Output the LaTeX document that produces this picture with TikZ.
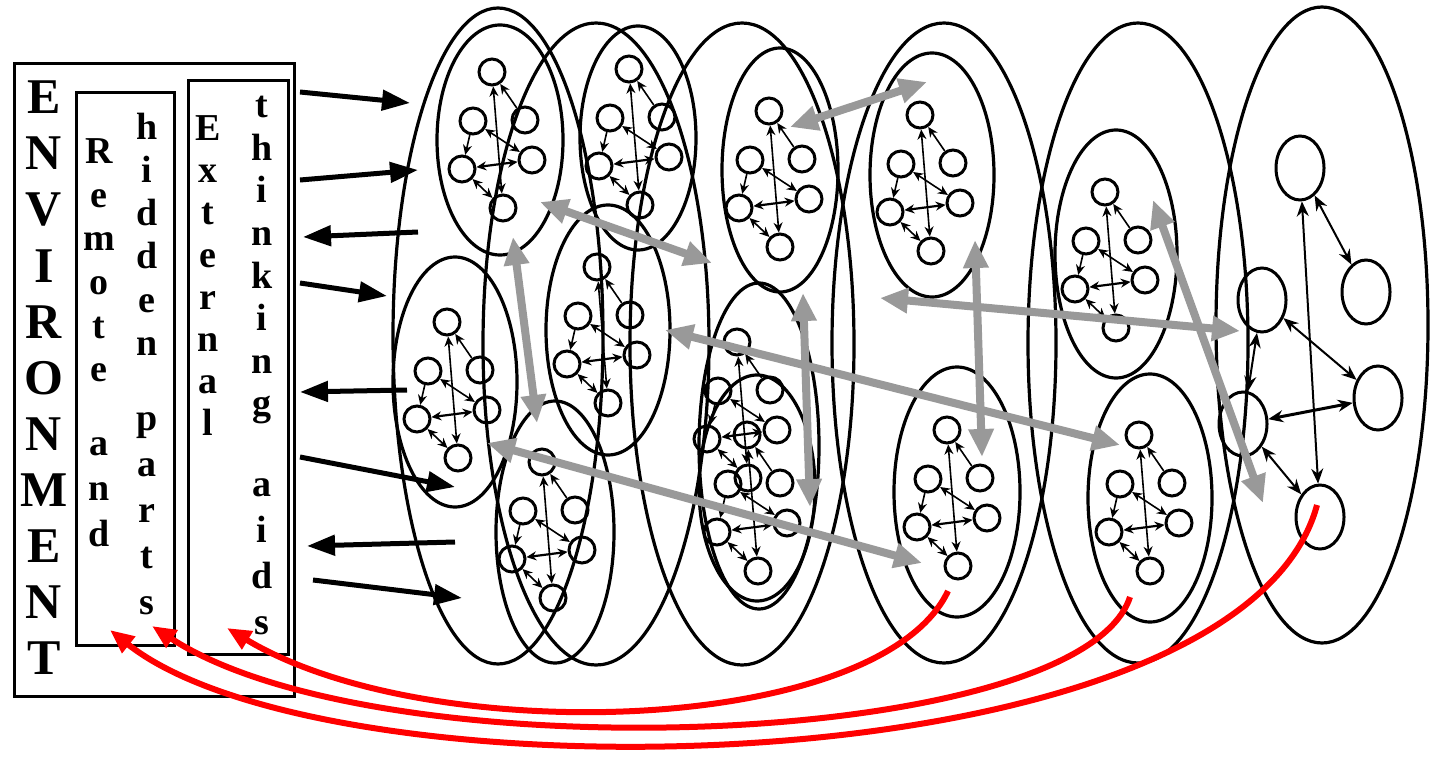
\documentclass[tikz,border=0pt]{standalone}
\usepackage{fontspec}
\setmainfont{Liberation Serif}
\usetikzlibrary{arrows.meta,shapes.geometric}

\definecolor{linkgray}{RGB}{153,153,153}

% one small network of six cells
\newcommand{\minnet}[3]{%
  \begin{scope}[shift={(#2,#3)}]
    \node[cell] (#1t) at (-8,-68) {};
    \node[cell] (#1ur) at (25,-20) {};
    \node[cell] (#1ul) at (-27,-19) {};
    \node[cell] (#1r) at (32,20) {};
    \node[cell] (#1l) at (-38,29) {};
    \node[cell] (#1b) at (3,68) {};
    \draw[link,<->] (#1b) -- (#1t);
    \draw[link,->] (#1ur) -- (#1t);
    \draw[link,->] (#1ul) -- (#1l);
    \draw[link,<->] (#1ul) -- (#1r);
    \draw[link,<->,line width=2.2pt] (#1l) -- (#1r);
    \draw[link,<->] (#1l) -- (#1b);
  \end{scope}}

% letters set one under the other
\newcommand{\stackword}[6]{%
  \foreach \c [count=\i] in {#6}
    \node[#1] (#2\i) at (#3,{#4+#5*(\i-1)}) {\c};}

\begin{document}
\begin{tikzpicture}[
    x=1pt, y=-1pt,
    shell/.style={ellipse, draw, line width=3.2pt, inner sep=0pt},
    cell/.style={circle, draw, line width=3pt, minimum size=26pt, inner sep=0pt},
    bigcell/.style={ellipse, draw, line width=3pt, minimum width=48pt, minimum height=64pt, inner sep=0pt},
    link/.style={line width=1.6pt, >={Stealth[length=10pt,width=9pt]}},
    biglink/.style={line width=2pt, >={Stealth[length=15pt,width=12pt]}},
    flow/.style={draw=linkgray, line width=8pt, <->, >={Triangle[length=28pt,width=24pt]}},
    sense/.style={line width=5pt, -{Triangle[length=28pt,width=20pt]}},
    recall/.style={draw=red, line width=6pt, -{Triangle[length=24pt,width=20pt]}},
    frame/.style={draw, line width=3.2pt, inner sep=0pt},
    envchar/.style={font=\fontsize{50}{50}\selectfont\bfseries, anchor=base, inner sep=0pt},
    colchar/.style={font=\fontsize{38}{38}\selectfont\bfseries, anchor=base, inner sep=0pt}
  ]
  \useasboundingbox (0,0) rectangle (1431,759);

  % Large shells
  \node[shell, minimum width=210, minimum height=656] (E1) at (498,336) {};
  \node[shell, minimum width=226, minimum height=642] (E2) at (596,344) {};
  \node[shell, minimum width=224, minimum height=642] (E3) at (742,344) {};
  \node[shell, minimum width=224, minimum height=640] (E4) at (944,343) {};
  \node[shell, minimum width=220, minimum height=640] (E5) at (1138,343) {};
  \node[shell, minimum width=212, minimum height=636] (E6) at (1322,325) {};

  % Inner shells
  \node[shell, minimum width=126, minimum height=230] (M1) at (500,140) {};
  \node[shell, minimum width=116, minimum height=224] (M2) at (638,138) {};
  \node[shell, minimum width=116, minimum height=244] (M3) at (780,170) {};
  \node[shell, minimum width=124, minimum height=244] (M4) at (932,175) {};
  \node[shell, minimum width=122, minimum height=248] (M5) at (1116,254) {};
  \node[shell, minimum width=124, minimum height=250] (Mf) at (455,382) {};
  \node[shell, minimum width=124, minimum height=250] (Mg) at (608,330) {};
  \node[shell, minimum width=118, minimum height=262] (Mh) at (555,532) {};
  \node[shell, minimum width=120, minimum height=326] (Mi) at (759,446) {};
  \node[shell, minimum width=116, minimum height=226] (Mii) at (757,488) {};
  \node[shell, minimum width=126, minimum height=250] (Mj) at (957,492) {};
  \node[shell, minimum width=124, minimum height=248] (Mk) at (1150,498) {};

  % Small networks
  \minnet{a}{500}{140}
  \minnet{b}{637}{137}
  \minnet{c}{777}{179}
  \minnet{d}{928}{183}
  \minnet{e}{1113}{260}
  \minnet{f}{455}{390}
  \minnet{g}{605}{335}
  \minnet{h}{550}{530}
  \minnet{p}{745}{410}
  \minnet{q}{755}{503}
  \minnet{j}{955}{498}
  \minnet{k}{1147}{503}

  % Large network
  \node[bigcell] (n1) at (1300,168) {};
  \node[bigcell] (n2) at (1366,292) {};
  \node[bigcell] (n3) at (1262,300) {};
  \node[bigcell] (n4) at (1378,398) {};
  \node[bigcell] (n5) at (1243,424) {};
  \node[bigcell] (n6) at (1320,517) {};
  \draw[biglink,<->] (n6) -- (n1);
  \draw[biglink,<->] (n2) -- (n1);
  \draw[biglink,<->] (n3) -- (n5);
  \draw[biglink,<->] (n3) -- (n4);
  \draw[biglink,<->,line width=3pt] (n5) -- (n4);
  \draw[biglink,<->] (n5) -- (n6);

  % Environment boxes
  \node[frame, fill=white, anchor=north west, minimum width=280, minimum height=633] (envbox) at (13,62) {};
  \node[frame, anchor=north west, minimum width=98, minimum height=553] (remotebox) at (75,91) {};
  \node[frame, anchor=north west, minimum width=100, minimum height=574] (aidbox) at (187,79) {};

  \stackword{envchar}{env}{44}{114}{56}{E,N,V,I,R,O,N,M,E,N,T}
  \stackword{colchar}{rem}{99}{164}{43.5}{R,e,m,o,t,e}
  \stackword{colchar}{and}{99}{455}{45.5}{a,n,d}
  \stackword{colchar}{hid}{147}{140}{43}{h,i,d,d,e,n}
  \stackword{colchar}{par}{147}{430}{46}{p,a,r,t,s}
  \stackword{colchar}{ext}{208}{141}{42}{E,x,t,e,r,n,a,l}
  \stackword{colchar}{thi}{262}{118}{42.5}{t,h,i,n,k,i,n,g}
  \stackword{colchar}{aid}{262}{496}{46}{a,i,d,s}

  % Black arrows to and from the environment
  \coordinate (s1a) at (300,92);  \coordinate (s1b) at (410,103);
  \coordinate (s2a) at (300,180); \coordinate (s2b) at (418,170);
  \coordinate (s3a) at (418,232); \coordinate (s3b) at (303,237);
  \coordinate (s4a) at (300,283); \coordinate (s4b) at (387,296);
  \coordinate (s5a) at (407,390); \coordinate (s5b) at (300,392);
  \coordinate (s6a) at (300,457); \coordinate (s6b) at (455,487);
  \coordinate (s7a) at (455,542); \coordinate (s7b) at (307,546);
  \coordinate (s8a) at (313,580); \coordinate (s8b) at (462,598);
  \foreach \k in {1,...,8}
    \draw[sense] (s\k a) -- (s\k b);

  % Gray links between shells
  \coordinate (g1a) at (540,202);  \coordinate (g1b) at (712,263);
  \coordinate (g2a) at (513,237);  \coordinate (g2b) at (537,423);
  \coordinate (g3a) at (790,127);  \coordinate (g3b) at (927,82);
  \coordinate (g4a) at (803,293);  \coordinate (g4b) at (810,507);
  \coordinate (g5a) at (665,330);  \coordinate (g5b) at (1120,445);
  \coordinate (g6a) at (487,443);  \coordinate (g6b) at (922,563);
  \coordinate (g7a) at (880,298);  \coordinate (g7b) at (1240,331);
  \coordinate (g8a) at (975,240);  \coordinate (g8b) at (982,457);
  \coordinate (g9a) at (1153,200); \coordinate (g9b) at (1263,503);
  \foreach \k in {1,...,9}
    \draw[flow] (g\k a) -- (g\k b);

  % Red arrows back to the environment
  \coordinate (r1) at (948,591);  \coordinate (tipaid) at (227,628);
  \coordinate (r2) at (1130,597); \coordinate (tiphid) at (152,626);
  \coordinate (r3) at (1317,505); \coordinate (tiprem) at (110,630);
  \draw[recall] (r1) .. controls (880,735) and (430,750) .. (tipaid);
  \draw[recall] (r2) .. controls (1080,750) and (380,775) .. (tiphid);
  \draw[recall] (r3) .. controls (1240,790) and (330,805) .. (tiprem);
\end{tikzpicture}
\end{document}
